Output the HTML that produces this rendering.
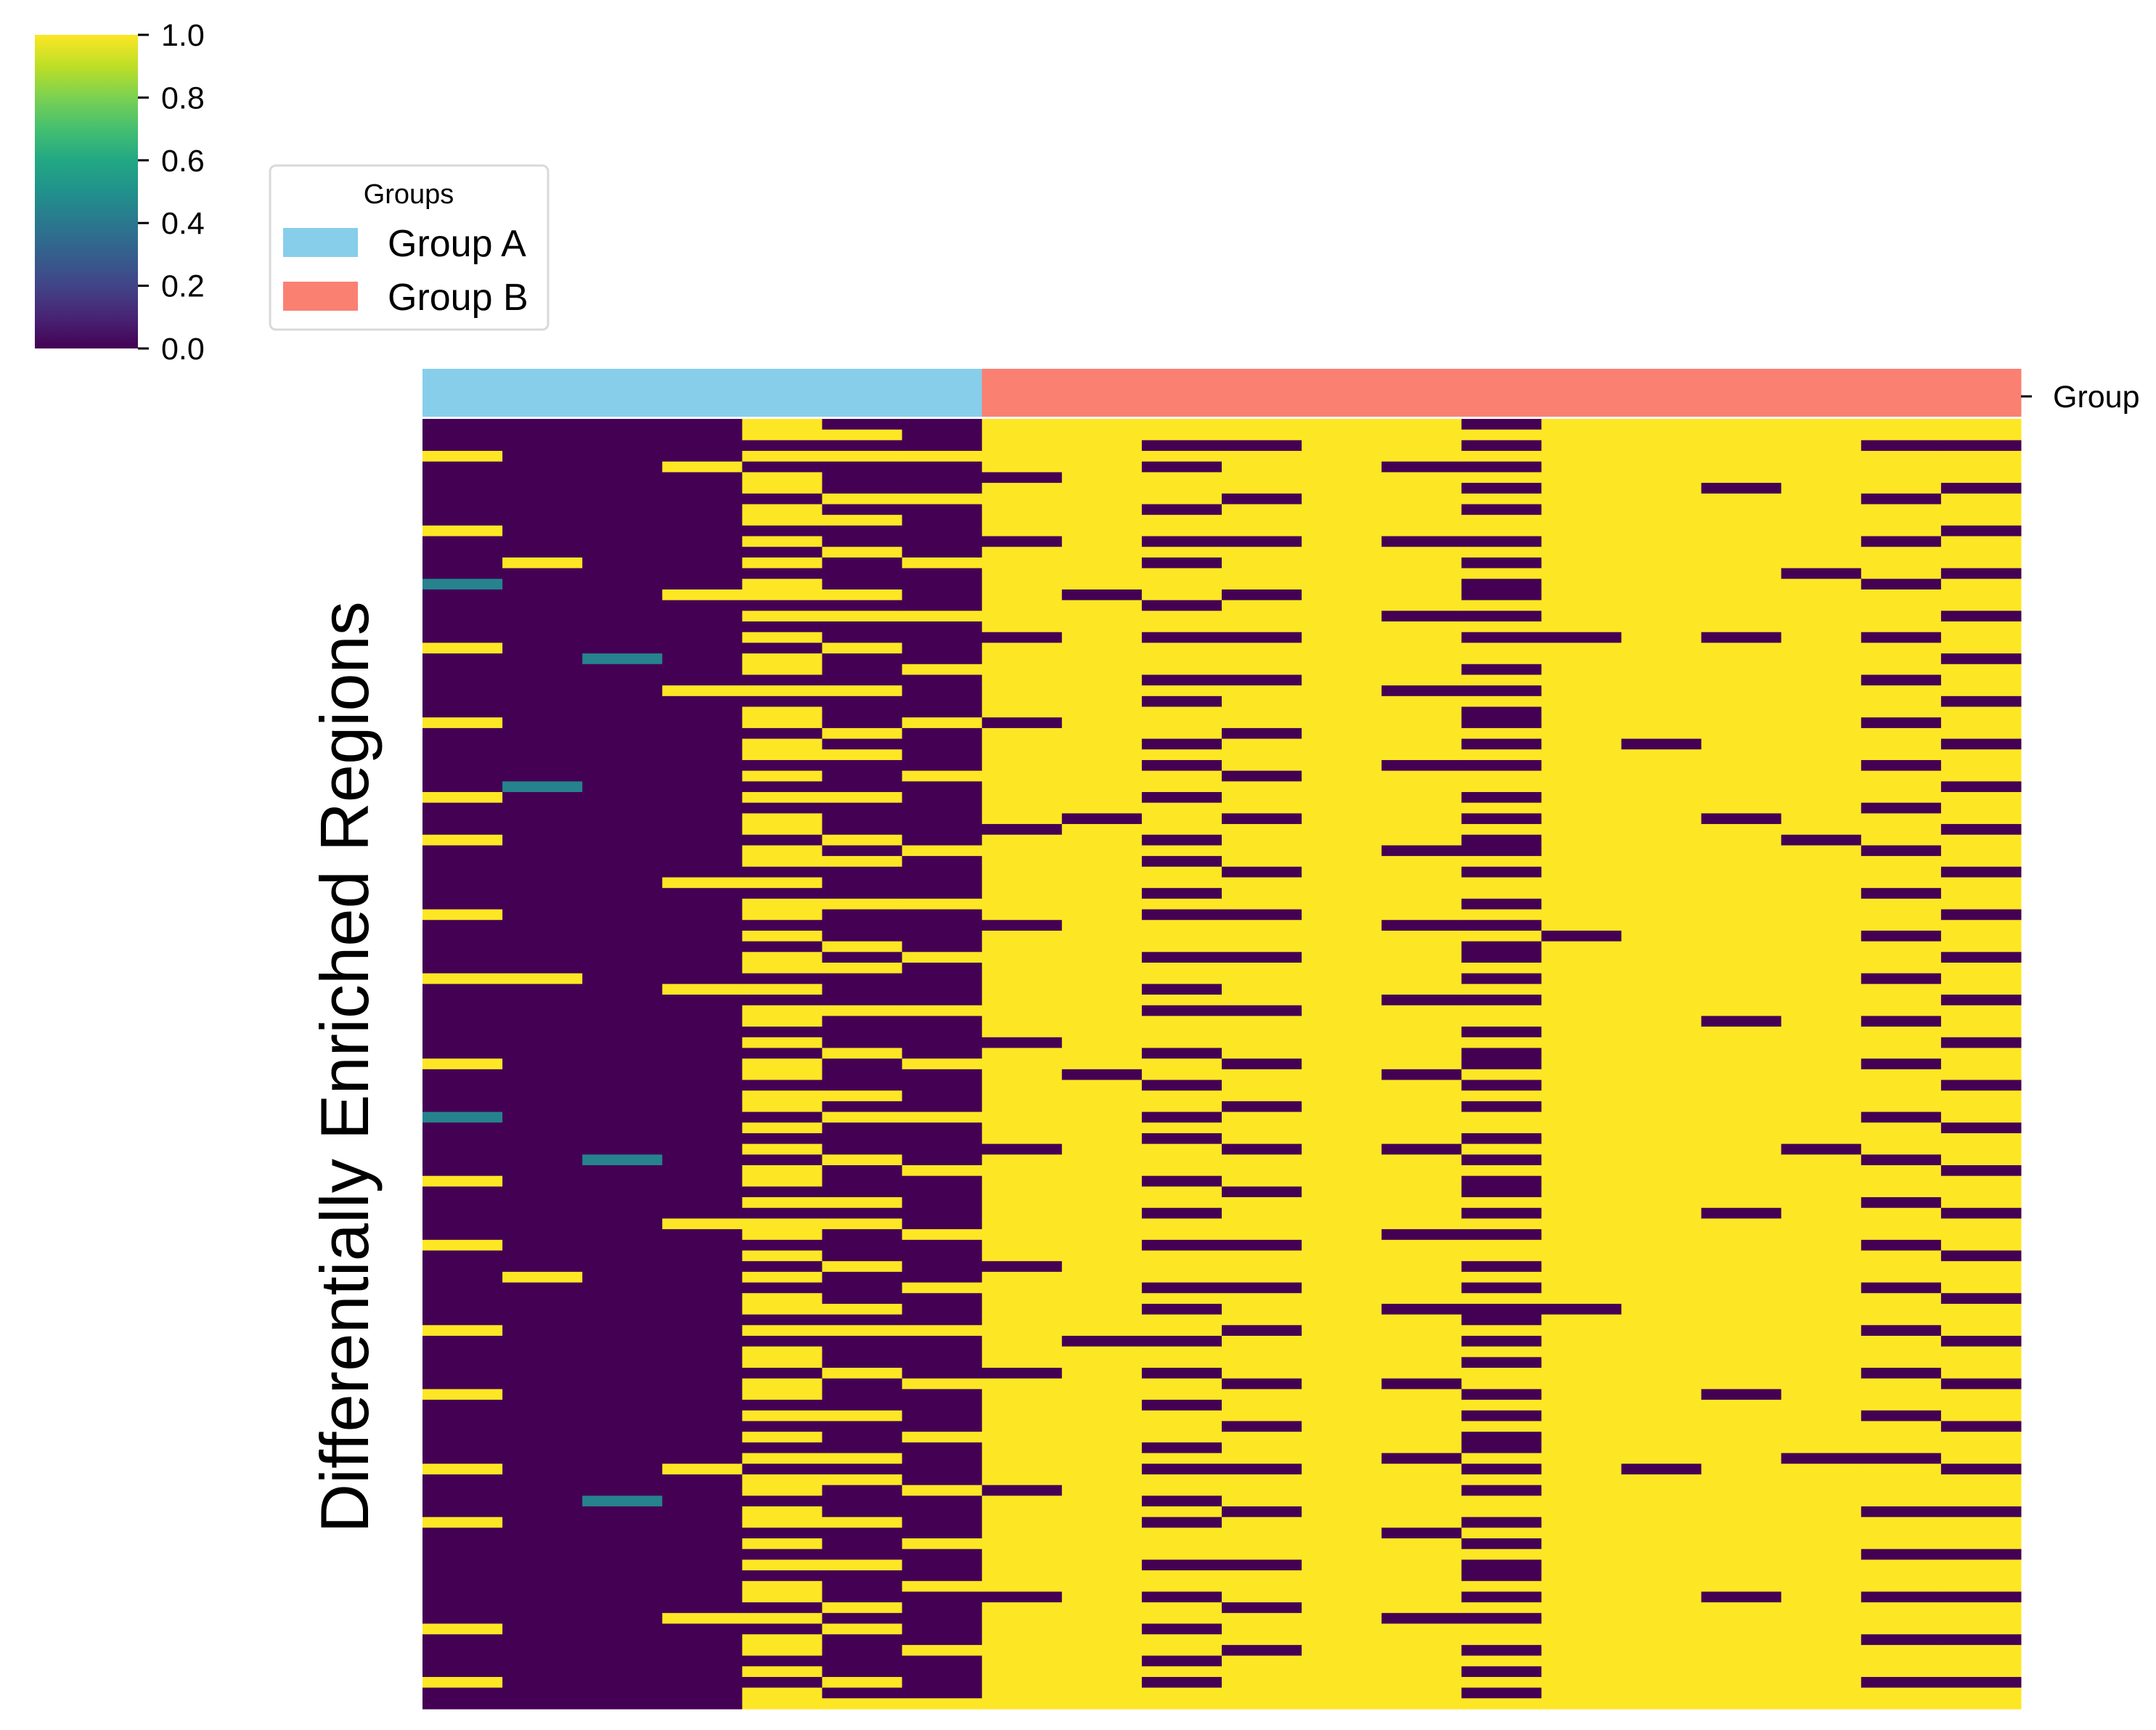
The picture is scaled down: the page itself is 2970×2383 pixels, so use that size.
<!DOCTYPE html>
<html><head><meta charset="utf-8"><style>
html,body{margin:0;padding:0;background:#fff;}
svg{display:block;font-family:"Liberation Sans","DejaVu Sans",sans-serif;}
</style></head><body>
<svg id="fig" width="2970" height="2383" viewBox="0 0 2970 2383" xmlns="http://www.w3.org/2000/svg">
<defs>
<linearGradient id="vir" x1="0" y1="1" x2="0" y2="0">
<stop offset="0" stop-color="#440154"/><stop offset="0.1" stop-color="#482475"/><stop offset="0.2" stop-color="#414487"/><stop offset="0.3" stop-color="#355f8d"/><stop offset="0.4" stop-color="#2a788e"/><stop offset="0.5" stop-color="#21918c"/><stop offset="0.6" stop-color="#22a884"/><stop offset="0.7" stop-color="#44bf70"/><stop offset="0.8" stop-color="#7ad151"/><stop offset="0.9" stop-color="#bddf26"/><stop offset="1" stop-color="#fde725"/>
</linearGradient>
</defs>
<g>
<rect x="48" y="48" width="142" height="432" fill="url(#vir)"/>
<g id="cbticks"></g>
</g>
<g>
<rect x="372" y="228" width="383" height="226" rx="8" fill="#fff" stroke="#d9d9d9" stroke-width="3"/>
<text x="563" y="280" font-size="38" text-anchor="middle">Groups</text>
<g>
<rect x="390" y="314" width="103" height="40" fill="#87ceeb"/>
<text x="534" y="353" font-size="52">Group A</text></g>
<g>
<rect x="390" y="388" width="103" height="40" fill="#fa8072"/>
<text x="534" y="427" font-size="52">Group B</text></g>
</g>
<g id="groupbar"></g>
<line x1="2784" y1="546" x2="2799" y2="546" stroke="#000" stroke-width="3"/>
<text x="2828" y="561" font-size="43">Group</text>
<g id="heat"></g>
<text transform="translate(507,1470) rotate(-90)" font-size="94" text-anchor="middle">Differentially Enriched Regions</text>
</svg>
<script>
const cbTicks=[0,0.2,0.4,0.6,0.8,1.0];
const cbLabels=["0.0","0.2","0.4","0.6","0.8","1.0"];
const sampleGroups=["A","A","A","A","A","A","A","B","B","B","B","B","B","B","B","B","B","B","B","B"];
const groupColors={A:"#87ceeb",B:"#fa8072"};
const colValues=[
"0009000000900004000009000000900000090009000000900000900000009000040000090000090000000900000900000090000900000000090000900",
"0000000000000900000000000000000000400000000000000000900000000000000000000000000090000000000000000000000000000000000000000",
"0000000000000000000000400000000000000000000000000000000000000000000004000000000000000000000000000000040000000000000000000",
"0000900000000000900000000900000000000000000900000000090000000000000000000009000000000000000000000090000000000000900000000",
"9909099099090909909090990909909909090990990909909099090990909909909090990909909090990909909909090909909909090990909909099",
"0909000909009000909009000900090900090009090009000909000900090009090009000909000900090900090009000909000900090009090000909",
"0009000900000900009000090000900009000000900009000090000900009000090000900000900009000900009000090000900009000900000900009",
"9999909999909999999909999999099999999909999999909999999999099999999909999999999099999999909999999999099999999909999999999",
"9999999999999999099999999999999999999099999999999999999999999099999999999999999999999909999999999999999999999999999999999",
"9909099909909099909909990909990909909990909909099909909099909909909099909909909990909909909909990909909099909909909909099",
"9909999099909999099909990999909990999099990999099909999099990999099909990999909990999099990999099909990999909990999099999",
"9999999999999999999999999999999999999999999999999999999999999999999999999999999999999999999999999999999999999999999999999",
"9999099999909999990999999099999909999999099999909999990999999099999909999999099999909999990999999099999909999999099999999",
"0909090909909090090909909090090909909090090990909009090990900909099090900909099090900909099090900909099090900909099090909",
"9999999999999999999909999999999999999999999999990999999999999999999999999999999999909999999999999999999999999999999999999",
"9999999999999999999999999999990999999999999999999999999999999999999999999999999999999999999999999909999999999999999999999",
"9999990999999999999909999999999999999099999999999999999909999999999999999909999999999999999099999999999999999909999999999",
"9999999999999909999999999999999999999990999999999999999999999999999909999999999999999999999999999099999999999999999999999",
"9909999099909990999909990999099909990999099909990999099909990999909990999099909990999099909990999099990999099909990999099",
"9909990999099909990999099909990999099909990999099909990999099909990999099909990999099909990999099909990999099909990999099"
];
const NS="http://www.w3.org/2000/svg";
const vir=[[68,1,84],[72,36,117],[65,68,135],[53,95,141],[42,120,142],[33,145,140],[34,168,132],[68,191,112],[122,209,81],[189,223,38],[253,231,37]];
function viridis(v){v=Math.max(0,Math.min(1,v));const p=v*10,i=Math.min(9,Math.floor(p)),t=p-i;const a=vir[i],b=vir[i+1];return "rgb("+a.map((c,k)=>Math.round(c+(b[k]-c)*t)).join(",")+")";}
const hx0=582,hx1=2784,hy0=577,hy1=2354;
const nCols=colValues.length;
const xS=i=>hx0+(hx1-hx0)*i/nCols;
const yS=(j,n)=>hy0+(hy1-hy0)*j/n;
const cbY=v=>480-432*v;
const cbg=document.getElementById('cbticks');
cbTicks.forEach((t,i)=>{
 const l=document.createElementNS(NS,'line');
 l.setAttribute('x1',190);l.setAttribute('x2',205);l.setAttribute('y1',cbY(t));l.setAttribute('y2',cbY(t));
 l.setAttribute('stroke','#000');l.setAttribute('stroke-width','3');
 
 
 cbg.appendChild(l);
 const tx=document.createElementNS(NS,'text');
 tx.setAttribute('x',222);tx.setAttribute('y',cbY(t)+15);tx.setAttribute('font-size','43');
 tx.textContent=cbLabels[i];
 
 
 cbg.appendChild(tx);
});
const gb=document.getElementById('groupbar');
sampleGroups.forEach((g,i)=>{
 const r=document.createElementNS(NS,'rect');
 r.setAttribute('x',xS(i));r.setAttribute('y',508);r.setAttribute('width',xS(i+1)-xS(i)+0.5);r.setAttribute('height',66);
 r.setAttribute('fill',groupColors[g]);
 
 
 gb.appendChild(r);
});
const hm=document.getElementById('heat');
colValues.forEach((col,i)=>{
 const n=col.length;
 for(let j=0;j<n;j++){
  const v=parseInt(col[j],10)/9;
  const r=document.createElementNS(NS,'rect');
  r.setAttribute('x',xS(i));r.setAttribute('y',yS(j,n));
  r.setAttribute('width',xS(i+1)-xS(i)+0.5);r.setAttribute('height',yS(j+1,n)-yS(j,n)+0.5);
  r.setAttribute('fill',viridis(v));
  
  
  hm.appendChild(r);
 }
});
</script>
</body></html>
